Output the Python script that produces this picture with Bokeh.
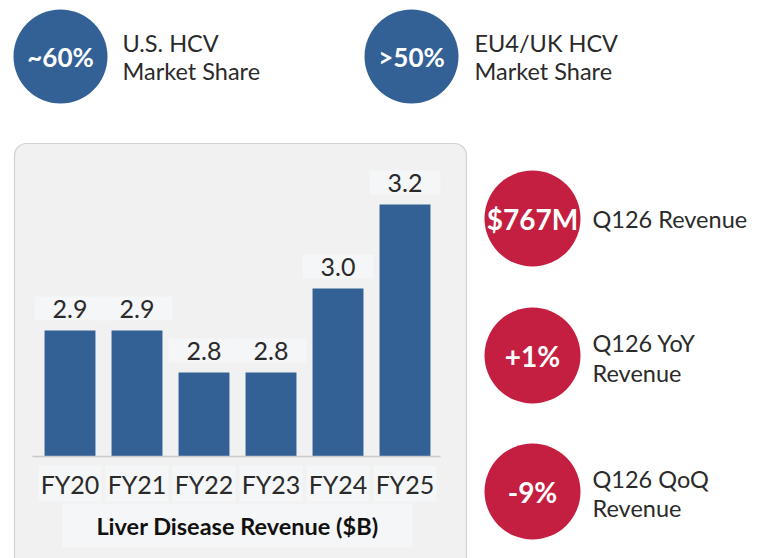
from bokeh.plotting import figure
from bokeh.models import Range1d
from bokeh.embed import file_html
from bokeh.resources import INLINE
from bokeh.core.properties import value

# ---- data ----
categories = ["FY20", "FY21", "FY22", "FY23", "FY24", "FY25"]
revenue = [2.9, 2.9, 2.8, 2.8, 3.0, 3.2]
value_labels = ["2.9", "2.9", "2.8", "2.8", "3.0", "3.2"]
chart_title = "Liver Disease Revenue ($B)"
axis_base = 2.6

top_stats = ["~60%", ">50%"]
top_line1 = ["U.S. HCV", "EU4/UK HCV"]
top_line2 = ["Market Share", "Market Share"]

side_stats = ["$767M", "+1%", "-9%"]
side_line1 = ["Q126 Revenue", "Q126 YoY", "Q126 QoQ"]
side_line2 = ["", "Revenue", "Revenue"]

# ---- style ----
FONT = "Lato"
BLUE = "#336196"
RED = "#c41f40"
DARK = "#2a2a2a"
W, H = 763, 558
X0, Y0 = 0, 0

p = figure(width=W, height=H, output_backend="svg", toolbar_location=None,
           x_range=Range1d(X0, X0 + W), y_range=Range1d(Y0 + H, Y0),
           min_border=0, x_axis_location=None, y_axis_location=None)
p.grid.visible = False
p.outline_line_color = None
p.background_fill_color = "white"
p.border_fill_color = "white"

# bar scales (extra ranges): baseline pixel and px per unit
base_px, px_per_unit = 456, 420
first_px, step_px = 69.5, 67
p.extra_y_ranges = {"val": Range1d(axis_base - (Y0 + H - base_px) / px_per_unit,
                                   axis_base + (base_px - Y0) / px_per_unit)}
p.extra_x_ranges = {"idx": Range1d((X0 - first_px) / step_px,
                                   (X0 + W - first_px) / step_px)}
idx = list(range(len(categories)))

# panel
p.quad(left=14, right=466, top=143, bottom=620, fill_color="#f1f1f1",
       line_color="#d2d2d2", line_width=1.2, border_radius=12)

# bars
p.vbar(x=idx, top=revenue, bottom=axis_base, width=0.76, fill_color=BLUE,
       line_color=None, x_range_name="idx", y_range_name="val")
p.segment(x0=[-0.56], x1=[5.53], y0=[axis_base], y1=[axis_base],
          line_color="#c9c9c9", line_width=1.5, x_range_name="idx", y_range_name="val")

p.text(x=idx, y=revenue, text=value_labels, y_offset=-22, text_align="center",
       text_baseline="middle", text_font=value(FONT), text_font_size="25px",
       text_color=DARK, background_fill_color="#f5f6f7",
       padding=dict(left=18, right=18, top=3, bottom=3),
       x_range_name="idx", y_range_name="val")
p.text(x=idx, y=[axis_base] * len(idx), text=categories, y_offset=27,
       text_align="center", text_baseline="middle", text_font=value(FONT),
       text_font_size="25px", text_color=DARK, background_fill_color="#f5f6f7",
       padding=dict(left=2, right=2, top=3, bottom=3),
       x_range_name="idx", y_range_name="val")
p.text(x=[sum(idx) / len(idx)], y=[axis_base], text=[chart_title], y_offset=69,
       text_align="center", text_baseline="middle", text_font=value(FONT),
       text_font_size="23.5px", text_font_style="bold", text_color="#111111",
       background_fill_color="#f5f6f7", padding=dict(left=34, right=34, top=8, bottom=8),
       x_range_name="idx", y_range_name="val")

# top blue circles
top_cx = [60, 411]
top_cy = [56, 56]
p.circle(x=top_cx, y=top_cy, radius=47, fill_color=BLUE, line_color=None)
p.text(x=top_cx, y=top_cy, text=top_stats, text_align="center", text_baseline="middle",
       text_font=value(FONT), text_font_size="26px", text_font_style="bold",
       text_color="white")
top_tx = [122, 474]
p.text(x=top_tx, y=[42, 42], text=top_line1, text_baseline="middle",
       text_font=value(FONT), text_font_size="23.5px", text_color=DARK)
p.text(x=top_tx, y=[70, 70], text=top_line2, text_baseline="middle",
       text_font=value(FONT), text_font_size="23.5px", text_color=DARK)

# side red circles
side_cx = [532, 532, 532]
side_cy = [218, 355, 491]
p.circle(x=side_cx, y=side_cy, radius=48, fill_color=RED, line_color=None)
p.text(x=side_cx, y=side_cy, text=side_stats, text_align="center", text_baseline="middle",
       text_font=value(FONT), text_font_size="28px", text_font_style="bold",
       text_color="white")
p.text(x=[592, 592, 592], y=[218, 342, 478], text=side_line1, text_baseline="middle",
       text_font=value(FONT), text_font_size="23.5px", text_color=DARK)
p.text(x=[592, 592, 592], y=[218, 372, 507], text=side_line2, text_baseline="middle",
       text_font=value(FONT), text_font_size="23.5px", text_color=DARK)

open("out.html", "w").write(file_html(p, INLINE))
